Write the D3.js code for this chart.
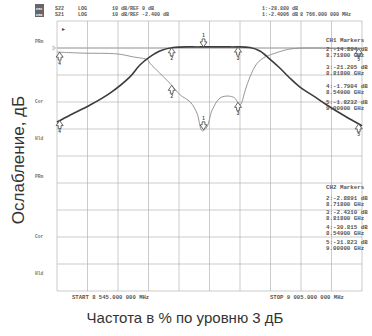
<!DOCTYPE html>
<html>
<head>
<meta charset="utf-8">
<script src="https://cdn.jsdelivr.net/npm/d3@7"></script>
<style>
  html, body { margin: 0; padding: 0; background: #fff; }
  svg { display: block; font-family: 'Liberation Sans', Arial, sans-serif; }
  .mono { font-family: 'Liberation Mono', 'DejaVu Sans Mono', monospace; font-weight: bold; }
</style>
</head>
<body>
<div id="chart"></div>
<script>
// --- data ---
// CH1: S22 (reflection, thin light trace), dB, ref 0 dB
const freqS22 = [8.545, 8.584, 8.636, 8.660, 8.682, 8.685, 8.700, 8.715, 8.731, 8.746, 8.756, 8.764, 8.771, 8.779, 8.791, 8.803, 8.813, 8.821, 8.829, 8.836, 8.847, 8.859, 8.866, 8.896, 8.927, 8.972, 9.005];
const s22 = [-1.5, -1.9, -2.2, -3.3, -4.4, -5.6, -9.3, -13.0, -17.4, -20.0, -24.1, -30.7, -29.3, -23.0, -18.5, -17.8, -18.5, -21.1, -15.6, -10.7, -5.6, -3.3, -2.6, -0.4, 0.0, -0.2, -0.2];

// CH2: S21 (transmission, thick dark trace), dB, ref -2.4 dB
const freqS21 = [8.545, 8.565, 8.595, 8.625, 8.655, 8.670, 8.685, 8.700, 8.720, 8.761, 8.806, 8.836, 8.851, 8.866, 8.881, 8.896, 8.911, 8.934, 8.952, 8.979, 9.005];
const s21 = [-29.8, -27.2, -23.5, -19.1, -13.1, -8.7, -5.7, -3.5, -2.2, -2.0, -2.0, -2.2, -3.5, -6.5, -9.8, -13.5, -16.8, -20.5, -23.5, -27.6, -31.2];

// markers (GHz)
const markerIds = [1, 2, 3, 4, 5];
const markerFreqs = [8.766, 8.718, 8.818, 8.549, 9.000];
const markerDirS22 = ['down', 'up', 'up', 'up', 'up'];
const markerDirS21 = ['down', 'up', 'up', 'up', 'up'];

const ch1List = ['2:-14.804 dB', '8.71800 GHz', '3:-21.205 dB', '8.81800 GHz', '4:-1.7904 dB', '8.54900 GHz', '5:-1.8232 dB', '9.00000 GHz'];
const ch2List = ['2:-2.8891 dB', '8.71800 GHz', '3:-2.4310 dB', '8.81800 GHz', '4:-30.815 dB', '8.54900 GHz', '5:-31.823 dB', '9.00000 GHz'];
const refLabels = ['PRm', 'Cor', 'Hld'];

const W = 372, H = 336;
const gx0 = 57, gx1 = 362, gy0 = 21, gy1 = 291;
const fStart = 8.545, fStop = 9.005;

const svg = d3.select('#chart').append('svg').attr('width', W).attr('height', H);

const x = d3.scaleLinear().domain([fStart, fStop]).range([gx0, gx1]);
const y1 = d3.scaleLinear().domain([10, -90]).range([gy0, gy1]);
const y2 = d3.scaleLinear().domain([7.6, -92.4]).range([gy0, gy1]);

// --- grid ---
const grid = svg.append('g');
const vTicks = d3.range(11).map(i => fStart + i * (fStop - fStart) / 10);
const hTicks = d3.range(11).map(i => 10 - i * 10);
grid.selectAll('.v').data(vTicks).enter().append('line')
  .attr('x1', d => x(d)).attr('x2', d => x(d)).attr('y1', gy0).attr('y2', gy1)
  .attr('stroke', '#b4b4b4').attr('stroke-width', 0.7);
grid.selectAll('.h').data(hTicks).enter().append('line')
  .attr('x1', gx0).attr('x2', gx1).attr('y1', d => y1(d)).attr('y2', d => y1(d))
  .attr('stroke', '#b4b4b4').attr('stroke-width', 0.7);
grid.append('line').attr('x1', gx0).attr('x2', gx1).attr('y1', y1(0)).attr('y2', y1(0))
  .attr('stroke', '#999').attr('stroke-width', 0.8);

// reference pointer & small glyph
svg.append('path').attr('d', `M${gx0 - 4},${y1(0) - 2} L${gx0 - 1},${y1(0)} L${gx0 - 4},${y1(0) + 2} Z`).attr('fill', 'none').attr('stroke', '#888').attr('stroke-width', 0.5);
svg.append('text').attr('x', 62).attr('y', 31).text('▸').style('font-size', '6px').attr('fill', '#444');

// --- header ---
const header = svg.append('g').attr('class', 'mono').style('font-size', '5px').attr('fill', '#555');
header.append('rect').attr('x', 35).attr('y', 4).attr('width', 9).attr('height', 13).attr('fill', '#666');
header.append('text').attr('x', 36).attr('y', 9.5).text('CH1').attr('fill', '#fff').style('font-size', '3.6px');
header.append('text').attr('x', 36).attr('y', 15.5).text('CH2').attr('fill', '#fff').style('font-size', '3.6px');
[['S22', 'LOG', '10 dB/REF 0 dB', '1:-28.880 dB', ''], ['S21', 'LOG', '10 dB/REF -2.400 dB', '1:-2.4006 dB', '8 766.000 000 MHz']]
  .forEach((row, i) => {
    const yy = 10 + i * 6;
    header.append('text').attr('x', 55).attr('y', yy).text(row[0]);
    header.append('text').attr('x', 78).attr('y', yy).text(row[1]);
    header.append('text').attr('x', 112).attr('y', yy).text(row[2]);
    header.append('text').attr('x', 262).attr('y', yy).text(row[3]);
    header.append('text').attr('x', 300).attr('y', yy).text(row[4]);
  });

// --- left ref labels ---
const left = svg.append('g').attr('class', 'mono').style('font-size', '4.6px').attr('fill', '#777');
[[41, 101, 138], [176, 236, 273]].forEach(ys => {
  ys.forEach((yy, i) => left.append('text').attr('x', 35).attr('y', yy + 1.5).text(refLabels[i]));
});

// --- traces ---
const line1 = d3.line().x((d, i) => x(freqS22[i])).y(d => y1(d)).curve(d3.curveCatmullRom.alpha(0.5));
const line2 = d3.line().x((d, i) => x(freqS21[i])).y(d => y2(d)).curve(d3.curveCatmullRom.alpha(0.5));
svg.append('path').datum(s22).attr('d', line1).attr('fill', 'none').attr('stroke', '#8a8a8a').attr('stroke-width', 0.9);
svg.append('path').datum(s21).attr('d', line2).attr('fill', 'none').attr('stroke', '#3c3c3c').attr('stroke-width', 1.6);

// --- markers ---
function interp(fs, vs, f) {
  const i = Math.max(1, Math.min(fs.length - 1, d3.bisectLeft(fs, f)));
  const t = (f - fs[i - 1]) / (fs[i] - fs[i - 1]);
  return vs[i - 1] + t * (vs[i] - vs[i - 1]);
}
function drawMarkers(fs, vs, yScale, dirs) {
  markerIds.forEach((id, k) => {
    const px = x(markerFreqs[k]);
    const py = yScale(interp(fs, vs, markerFreqs[k]));
    const s = dirs[k] === 'up' ? 1 : -1;
    const g = svg.append('g').attr('transform', `translate(${px},${py})`);
    g.append('path')
      .attr('d', `M0,0 L3.5,${5 * s} L1.4,${5 * s} L1.4,${8 * s} L-1.4,${8 * s} L-1.4,${5 * s} L-3.5,${5 * s} Z`)
      .attr('fill', '#fff').attr('stroke', '#444').attr('stroke-width', 0.8);
    g.append('text').attr('x', 0).attr('y', s > 0 ? 12.5 : -9.5).attr('text-anchor', 'middle')
      .text(id).style('font-size', '4.6px').style('font-weight', 'bold').attr('fill', '#444');
  });
}
drawMarkers(freqS22, s22, y1, markerDirS22);
drawMarkers(freqS21, s21, y2, markerDirS21);

// --- marker lists ---
const lists = svg.append('g').attr('class', 'mono').style('font-size', '5.8px').attr('fill', '#555');
function drawList(title, rows, y0, steps) {
  lists.append('text').attr('x', 326).attr('y', y0).text(title);
  rows.forEach((t, i) => {
    const yy = steps[Math.floor(i / 2)] + (i % 2) * 6;
    lists.append('text').attr('x', 326).attr('y', yy).text(t);
  });
}
drawList('CH1 Markers', ch1List, 42, [51, 69, 88, 104]);
drawList('CH2 Markers', ch2List, 189, [200, 214, 229, 244]);

// --- start / stop ---
const foot = svg.append('g').attr('class', 'mono').style('font-size', '5.6px').attr('fill', '#555');
foot.append('text').attr('x', 72).attr('y', 299).text('START 8 545.000 000 MHz');
foot.append('text').attr('x', 270).attr('y', 299).text('STOP 9 005.000 000 MHz');

// --- axis titles ---
svg.append('text').attr('x', 185).attr('y', 323).attr('text-anchor', 'middle')
  .text('Частота в % по уровню 3 дБ').style('font-size', '15px').attr('fill', '#333');
svg.append('text').attr('transform', 'translate(24,160) rotate(-90)').attr('text-anchor', 'middle')
  .text('Ослабление, дБ').style('font-size', '17px').attr('fill', '#333');
</script>
</body>
</html>
